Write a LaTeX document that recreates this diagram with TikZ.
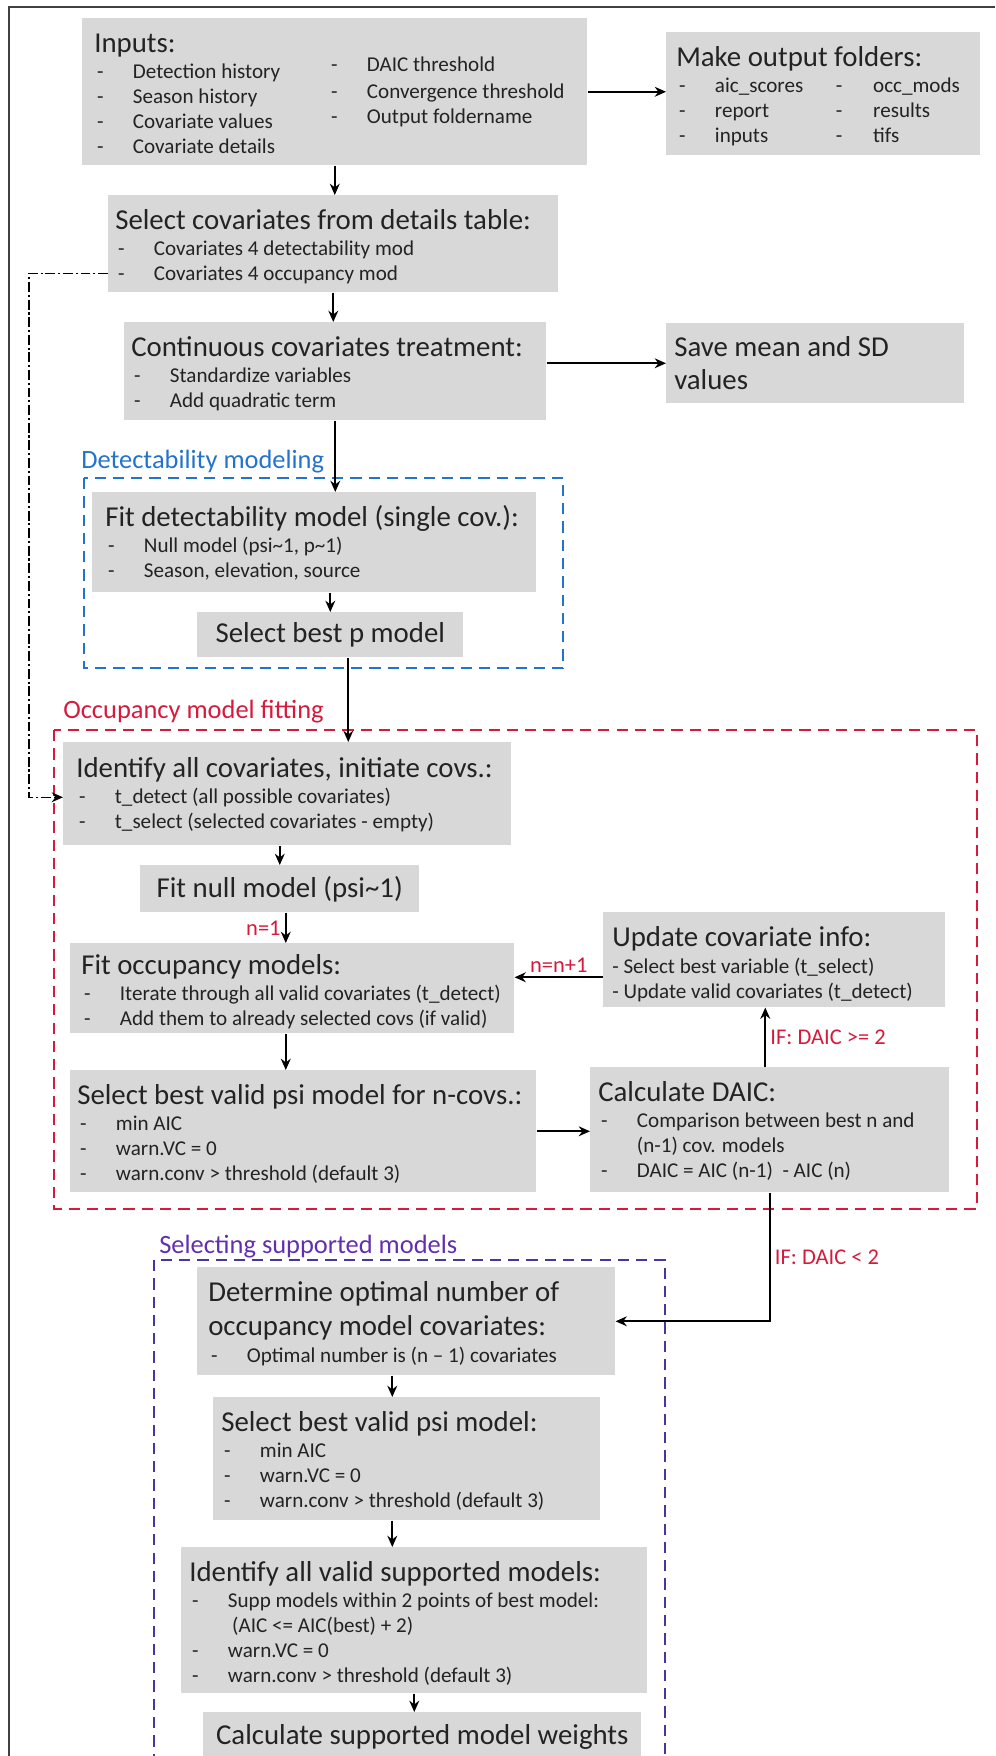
\documentclass[tikz,border=0pt]{standalone}
\usepackage{fontspec}
\setmainfont{Carlito}
\usepackage{array}
\usetikzlibrary{arrows.meta, calc}

\definecolor{boxgray}{RGB}{216,216,216}
\definecolor{inktext}{RGB}{35,35,35}
\definecolor{detblue}{RGB}{35,115,205}
\definecolor{occred}{RGB}{215,25,60}
\definecolor{suppviolet}{RGB}{70,55,160}

\newcommand{\ttl}{\fontsize{20.5}{25.6}\selectfont}
\newcommand{\itm}{\fontsize{15}{17.8}\selectfont}
\newcommand{\hd}[1]{\multicolumn{2}{@{}l@{}}{\ttl #1}}
\newcommand{\blk}[2]{\begin{tabular}[t]{@{\hspace{2pt}}p{25.5pt}@{}l@{}}\hd{#1}\\[1pt] #2\end{tabular}}

\begin{document}
\begin{tikzpicture}[
    x=0.025cm, y=-0.025cm,
    gbox/.style 2 args={fill=boxgray, inner sep=0pt, anchor=north west, minimum width=#1*0.025cm, minimum height=#2*0.025cm, font=\ttl, text=inktext},
    txt/.style={anchor=base west, inner sep=0pt, font=\itm, text=inktext},
    lbl/.style={anchor=base west, inner sep=0pt, font=\fontsize{18.8}{22}\selectfont},
    note/.style={font=\fontsize{16}{19}\selectfont, text=occred, inner sep=3pt},
    flow/.style={line width=1.3pt, draw=black, -{Stealth[length=8pt, width=7pt]}},
    group/.style={line width=1.2pt, dash pattern=on 8pt off 5pt},
    ddline/.style={line width=1.1pt, dash pattern=on 7pt off 2pt on 1.5pt off 2pt, -{Stealth[length=8pt, width=7pt]}}
]
    \useasboundingbox (0,0) rectangle (995,1756);
    \clip (0,0) rectangle (995,1756);

    % page frame
    \draw[line width=1.8pt, draw=black!75] (995,7) -| (9,1760);

    % Boxes
    \node[gbox={505}{147}] (inputs) at (82,18) {};
    \node[gbox={314}{123}] (folders) at (666,32) {};
    \node[gbox={450}{97}] (select) at (108,195) {};
    \node[gbox={422}{98}] (contin) at (124,322) {};
    \node[gbox={298}{80}] (savemean) at (666,323) {};
    \node[gbox={444}{100}] (fitdet) at (92,492) {};
    \node[gbox={266}{45}] (bestp) at (197,612) {Select best p model};
    \node[gbox={448}{103}] (identify) at (63,742) {};
    \node[gbox={279}{47}] (fitnull) at (140,865) {Fit null model (psi\textasciitilde 1)};
    \node[gbox={444}{90}] (fitocc) at (70,943) {};
    \node[gbox={342}{95}] (update) at (603,912) {};
    \node[gbox={466}{122}] (bestn) at (70,1070) {};
    \node[gbox={359}{125}] (daic) at (590,1067) {};
    \node[gbox={418}{108}] (determine) at (197,1267) {};
    \node[gbox={387}{123}] (bestvalid) at (213,1397) {};
    \node[gbox={466}{146}] (identsupp) at (181,1547) {};
    \node[gbox={438}{50}] (weights) at (203,1712) {Calculate supported model weights};

    % Box texts
    \node[txt] (inputsA) at (94,52) {\blk{Inputs:}{- & Detection history\\ - & Season history\\ - & Covariate values\\ - & Covariate details}};
    \node[txt] (inputsB) at (328,71) {\begin{tabular}[t]{@{\hspace{2pt}}p{25.5pt}@{}l@{}} - & DAIC threshold\\[2pt] - & Convergence threshold\\ - & Output foldername\end{tabular}};
    \node[txt] (foldersT) at (676,66) {\begin{tabular}[t]{@{\hspace{2pt}}p{25.5pt}@{}p{86pt}@{}p{26.5pt}@{}l@{}}\multicolumn{4}{@{}l@{}}{\ttl Make output folders:}\\[1pt] - & aic\_scores & - & occ\_mods\\ - & report & - & results\\ - & inputs & - & tifs\end{tabular}};
    \node[txt] (selectT) at (115,229) {\blk{Select covariates from details table:}{- & Covariates 4 detectability mod\\ - & Covariates 4 occupancy mod}};
    \node[txt] (continT) at (131,356) {\blk{Continuous covariates treatment:}{- & Standardize variables\\ - & Add quadratic term}};
    \node[txt, font=\fontsize{20.5}{23.5}\selectfont] (saveT) at (674,356) {\begin{tabular}[t]{@{}l@{}}Save mean and SD\\ values\end{tabular}};
    \node[txt] (fitdetT) at (105,526) {\blk{Fit detectability model (single cov.):}{- & Null model (psi\textasciitilde 1, p\textasciitilde 1)\\ - & Season, elevation, source}};
    \node[txt] (identifyT) at (76,777) {\blk{Identify all covariates, initiate covs.:}{- & t\_detect (all possible covariates)\\ - & t\_select (selected covariates - empty)}};
    \node[txt] (fitoccT) at (81,974) {\blk{Fit occupancy models:}{- & Iterate through all valid covariates (t\_detect)\\ - & Add them to already selected covs (if valid)}};
    \node[txt] (updateT) at (612,946) {\begin{tabular}[t]{@{}l@{}}{\ttl Update covariate info:}\\[2pt] - Select best variable (t\_select)\\ - Update valid covariates (t\_detect)\end{tabular}};
    \node[txt] (bestnT) at (77,1104) {\blk{Select best valid psi model for n-covs.:}{- & min AIC\\ - & warn.VC = 0\\ - & warn.conv > threshold (default 3)}};
    \node[txt] (daicT) at (598,1101) {\blk{Calculate DAIC:}{- & Comparison between best n and\\ & (n-1) cov. models\\ - & DAIC = AIC (n-1) \ - AIC (n)}};
    \node[txt] (determineT) at (208,1301) {\begin{tabular}[t]{@{\hspace{2pt}}p{25.5pt}@{}l@{}}\hd{Determine optimal number of}\\[5pt] \hd{occupancy model covariates:}\\[1pt] - & Optimal number is (n – 1) covariates\end{tabular}};
    \node[txt] (bestvalidT) at (221,1431) {\blk{Select best valid psi model:}{- & min AIC\\ - & warn.VC = 0\\ - & warn.conv > threshold (default 3)}};
    \node[txt] (identsuppT) at (189,1581) {\blk{Identify all valid supported models:}{- & Supp models within 2 points of best model:\\ & \hspace{3pt}(AIC <= AIC(best) + 2)\\ - & warn.VC = 0\\ - & warn.conv > threshold (default 3)}};

    % Groups
    \draw[group, detblue] (84,478) rectangle (563,668);
    \draw[group, occred] (54,730) rectangle (977,1209);
    \draw[group, suppviolet] (154,1260) rectangle (665,1800);
    \node[lbl, text=detblue] (detlbl) at (81,468) {Detectability modeling};
    \node[lbl, text=occred] (occlbl) at (63,718) {Occupancy model fitting};
    \node[lbl, text=suppviolet!85!magenta] (supplbl) at (159,1253) {Selecting supported models};

    % Connections
    \coordinate (pdrop) at ($(bestp.south)+(18,0)$);
    \coordinate (ndrop) at ($(fitnull.south)+(6,0)$);
    \coordinate (loopin) at ($(update.west)+(0,17.5)$);
    \coordinate (dup) at ($(daic.north)+(-4.5,0)$);
    \coordinate (sdrop) at ($(determine.south)+(-14,0)$);

    \draw[flow] (inputs.east) -- (inputs.east -| folders.west);
    \draw[flow] (inputs.south) -- (inputs.south |- select.north);
    \draw[flow] (select.south) -- (select.south |- contin.north);
    \draw[flow] (contin.east |- savemean.west) -- (savemean.west);
    \draw[flow] (contin.south) -- (contin.south |- fitdet.north);
    \draw[flow] (bestp.north |- fitdet.south) -- (bestp.north);
    \draw[flow] (pdrop) -- (pdrop |- identify.north);
    \draw[flow] (fitnull.north |- identify.south) -- (fitnull.north);
    \draw[flow] (ndrop) -- (ndrop |- fitocc.north) node[midway, left, note] {n=1};
    \draw[flow] (loopin) -- (loopin -| fitocc.east) node[midway, above, note] {n=n+1};
    \draw[flow] (ndrop |- fitocc.south) -- (ndrop |- bestn.north);
    \draw[flow] (bestn.east) -- (bestn.east -| daic.west);
    \draw[flow] (dup) -- (dup |- update.south) node[midway, right, note] {IF: DAIC >= 2};
    \draw[flow] (daic.south) |- (determine.east) node[pos=0.25, right, note] {IF: DAIC < 2};
    \draw[flow] (sdrop) -- (sdrop |- bestvalid.north);
    \draw[flow] (sdrop |- bestvalid.south) -- (sdrop |- identsupp.north);
    \draw[flow] (identsupp.south) -- (identsupp.south |- weights.north);
    \draw[ddline] ($(select.west)+(0,29.5)$) -- ++(-79,0) |- ($(identify.west)+(0,3.5)$);
\end{tikzpicture}
\end{document}
